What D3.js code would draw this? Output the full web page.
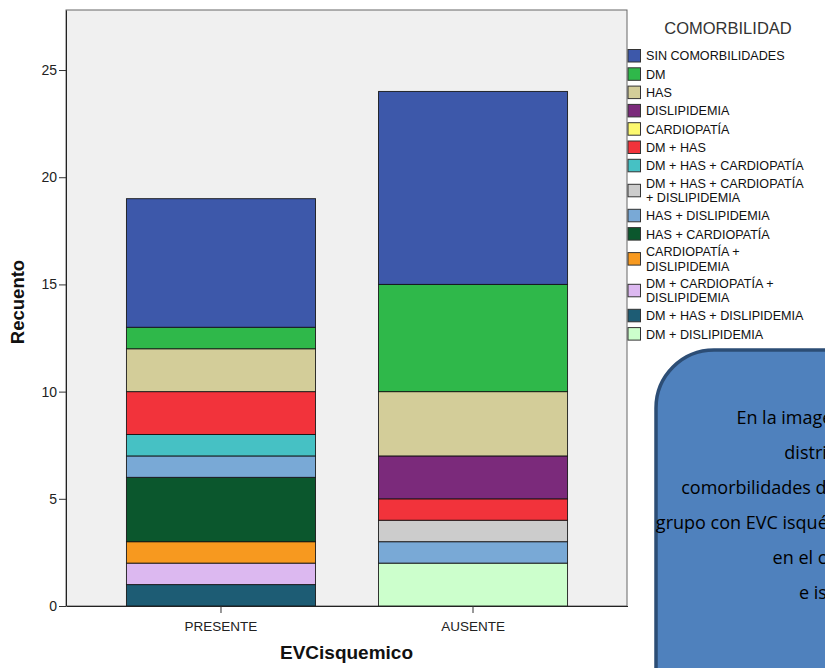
<!DOCTYPE html>
<html><head><meta charset="utf-8">
<script src="https://cdn.jsdelivr.net/npm/d3@7"></script>
<style>
html,body{margin:0;padding:0;background:#fff;overflow:hidden}
svg{display:block}
</style></head>
<body>
<svg id="chart" width="825" height="668"></svg>
<script>
const categories = ["PRESENTE", "AUSENTE"];
const comorbidities = [
  "SIN COMORBILIDADES", "DM", "HAS", "DISLIPIDEMIA", "CARDIOPATÍA", "DM + HAS",
  "DM + HAS + CARDIOPATÍA", "DM + HAS + CARDIOPATÍA + DISLIPIDEMIA",
  "HAS + DISLIPIDEMIA", "HAS + CARDIOPATÍA", "CARDIOPATÍA + DISLIPIDEMIA",
  "DM + CARDIOPATÍA + DISLIPIDEMIA", "DM + HAS + DISLIPIDEMIA", "DM + DISLIPIDEMIA"
];
const legendLabels = [
  ["SIN COMORBILIDADES"], ["DM"], ["HAS"], ["DISLIPIDEMIA"], ["CARDIOPATÍA"], ["DM + HAS"],
  ["DM + HAS + CARDIOPATÍA"], ["DM + HAS + CARDIOPATÍA", "+ DISLIPIDEMIA"],
  ["HAS + DISLIPIDEMIA"], ["HAS + CARDIOPATÍA"], ["CARDIOPATÍA +", "DISLIPIDEMIA"],
  ["DM + CARDIOPATÍA +", "DISLIPIDEMIA"], ["DM + HAS + DISLIPIDEMIA"], ["DM + DISLIPIDEMIA"]
];
const colors = [
  "#3d58aa", "#2fb84a", "#d3cd99", "#7b2a7b", "#fdf96f", "#f2333b",
  "#46c1c4", "#cccccc", "#79a9d6", "#0b572d", "#f7991f",
  "#dcb8f0", "#1d5c74", "#ccffcc"
];
const presenteValues = [6, 1, 2, 0, 0, 2, 1, 0, 1, 3, 1, 1, 1, 0];
const ausenteValues  = [9, 5, 3, 2, 0, 1, 0, 1, 1, 0, 0, 0, 0, 2];
const yTicks = [0, 5, 10, 15, 20, 25];
const yMax = 27.8;
const xTitle = "EVCisquemico";
const yTitle = "Recuento";
const legendTitle = "COMORBILIDAD";
const noteLines = [
  "En la imagen se observa la",
  "distribución de",
  "comorbilidades de los pacientes para el",
  "grupo con EVC isquémico presente y ausente,",
  "en el cual destaca",
  "e isquemia."
];

const svg = d3.select("#chart");
const plot = {left: 66, right: 627, top: 10, bottom: 606};
const sans = "Liberation Sans, Arial, sans-serif";

const rows = categories.map((c, i) => {
  const vals = i === 0 ? presenteValues : ausenteValues;
  const o = {cat: c};
  comorbidities.forEach((k, j) => o[k] = vals[j]);
  return o;
});

const x = d3.scaleBand().domain(categories).range([plot.left, plot.right])
  .paddingInner(0.25).paddingOuter(0.238);
const y = d3.scaleLinear().domain([0, yMax]).range([plot.bottom, plot.top]);
const color = d3.scaleOrdinal().domain(comorbidities).range(colors);

// plot background
svg.append("rect").attr("x", plot.left).attr("y", plot.top)
  .attr("width", plot.right - plot.left).attr("height", plot.bottom - plot.top)
  .attr("fill", "#f0f0f0").attr("stroke", "#666").attr("stroke-width", 1);

const stack = d3.stack().keys(comorbidities.slice().reverse());
const series = stack(rows);

svg.append("g").selectAll("g").data(series).join("g")
  .attr("fill", d => color(d.key))
  .selectAll("rect").data(d => d.filter(p => p[1] - p[0] > 0)).join("rect")
  .attr("x", d => x(d.data.cat) + 0.5)
  .attr("width", x.bandwidth())
  .attr("y", d => y(d[1]))
  .attr("height", d => y(d[0]) - y(d[1]))
  .attr("stroke", "#111").attr("stroke-opacity", 0.85).attr("stroke-width", 1);

// axes
const yAxis = d3.axisLeft(y).tickValues(yTicks).tickSize(7).tickSizeOuter(0).tickPadding(2).tickFormat(d3.format("d"));
const gy = svg.append("g").attr("transform", `translate(${plot.left},0)`).call(yAxis);
gy.select(".domain").attr("stroke", "#222");
gy.selectAll(".tick line").attr("stroke", "#333");
gy.selectAll("text").attr("font-family", sans).attr("font-size", 14).attr("fill", "#222");

const xAxis = d3.axisBottom(x).tickSize(7).tickSizeOuter(0).tickPadding(8);
const gx = svg.append("g").attr("transform", `translate(0.5,${plot.bottom})`).call(xAxis);
gx.select(".domain").attr("stroke", "#222");
gx.selectAll(".tick line").attr("stroke", "#333");
gx.selectAll("text").attr("font-family", sans).attr("font-size", 13.5).attr("fill", "#222");

svg.append("text").attr("x", (plot.left + plot.right) / 2).attr("y", 659)
  .attr("text-anchor", "middle").attr("font-family", sans)
  .attr("font-weight", "bold").attr("font-size", 19).attr("fill", "#111").text(xTitle);
svg.append("text").attr("transform", "translate(24,302) rotate(-90)")
  .attr("text-anchor", "middle").attr("font-family", sans)
  .attr("font-weight", "bold").attr("font-size", 18.5).attr("fill", "#111").text(yTitle);

// legend
svg.append("text").attr("x", 728).attr("y", 34).attr("text-anchor", "middle")
  .attr("font-family", sans).attr("font-size", 16.5)
  .attr("fill", "#333").text(legendTitle);
const lg = svg.append("g");
let cy = 56 - 9.15;
comorbidities.forEach((k, i) => {
  const lines = legendLabels[i];
  const h = lines.length === 1 ? 18.3 : 31.7;
  const mid = cy + h / 2;
  lg.append("rect").attr("x", 628).attr("y", mid - 6.5).attr("width", 12.5).attr("height", 12.5)
    .attr("fill", color(k)).attr("stroke", "#333").attr("stroke-width", 1);
  lines.forEach((ln, j) => {
    lg.append("text").attr("font-family", sans).attr("font-size", 12.6).attr("fill", "#111")
      .attr("x", 646).attr("y", mid + 4.4 + (j - (lines.length - 1) / 2) * 14.5).text(ln);
  });
  cy += h;
});

// note box
const box = svg.append("g");
box.append("rect").attr("x", 656).attr("y", 350).attr("width", 400).attr("height", 400)
  .attr("rx", 58).attr("ry", 58).attr("fill", "#4f81bd").attr("stroke", "#2c4d75").attr("stroke-width", 3.5);
const nt = box.append("text").attr("font-family", "Open Sans, sans-serif").attr("font-size", 18)
  .attr("fill", "#000").attr("text-anchor", "middle");
noteLines.forEach((ln, i) => {
  nt.append("tspan").attr("x", 847).attr("y", 424 + i * 35).text(ln);
});
</script>
</body></html>
